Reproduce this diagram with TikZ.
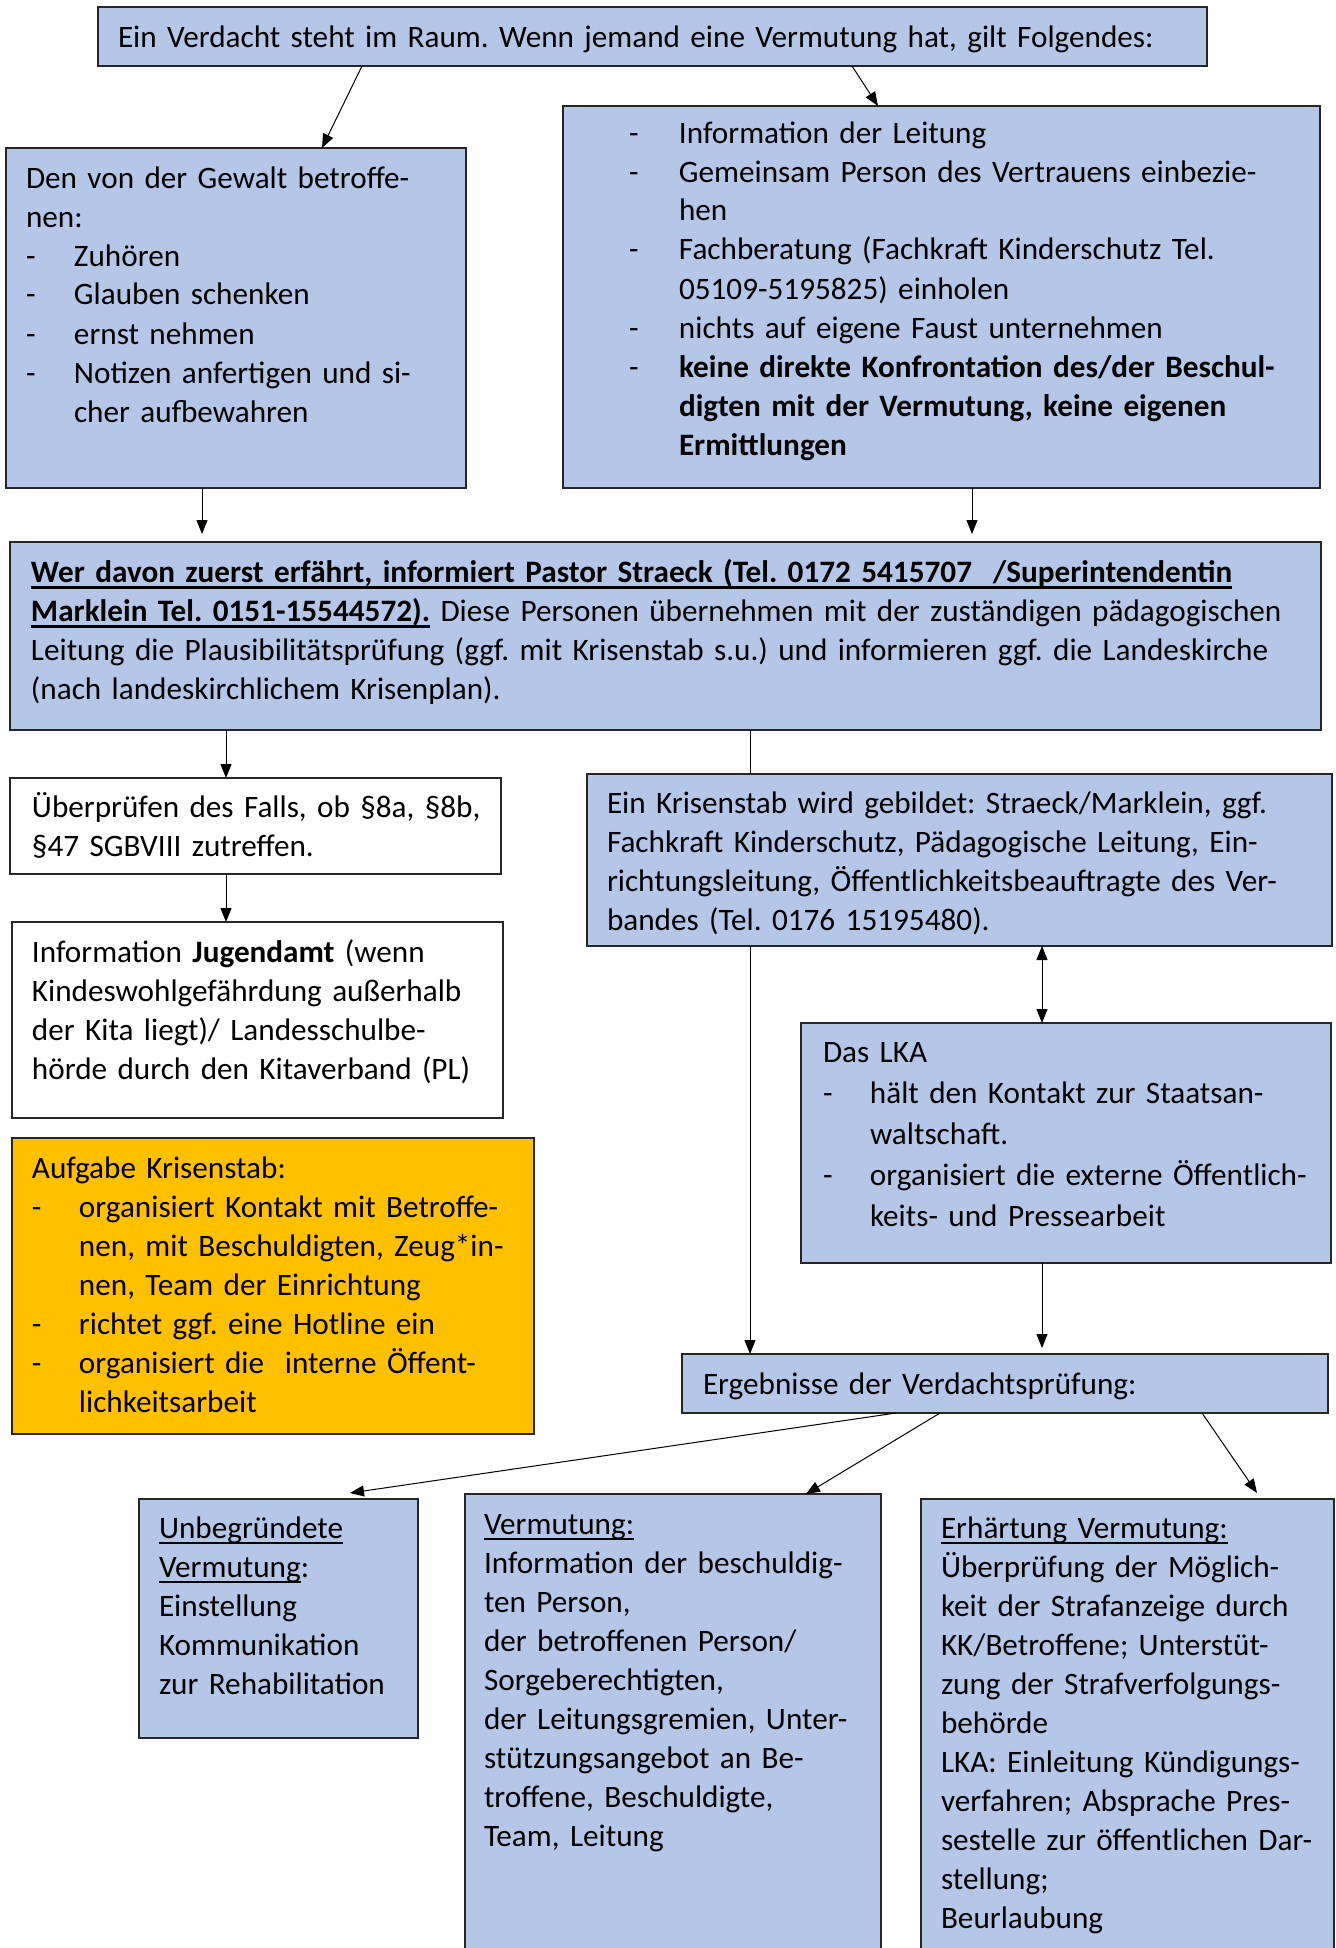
\documentclass[tikz,border=0pt]{standalone}
\usepackage{fontspec}
\setmainfont{Carlito}
\usetikzlibrary{arrows.meta}
\definecolor{boxblue}{HTML}{B4C7E7}
\definecolor{boxorange}{HTML}{FFC000}
\newsavebox\ulbox
\newcommand\ulthick[1]{\leavevmode\sbox\ulbox{#1}\rlap{\rule[-3.3pt]{\wd\ulbox}{1.1pt}}\usebox\ulbox}
\newcommand\ulthin[1]{\leavevmode\sbox\ulbox{#1}\rlap{\rule[-2.8pt]{\wd\ulbox}{0.75pt}}\usebox\ulbox}
\newcommand\bul[1][24pt]{\leavevmode\makebox[#1][l]{-}}
\newcommand\ind[1][24pt]{\leavevmode\hspace*{#1}}
\tikzset{
  box/.style={draw=black!85, line width=1pt, anchor=north west, inner sep=0pt, outer sep=0pt},
  bluebox/.style={box, fill=boxblue},
  whitebox/.style={box, fill=white},
  orangebox/.style={box, fill=boxorange},
  txt/.style={anchor=base west, inner sep=0pt, outer sep=0pt, align=left, text width=720pt,
    font=\fontsize{15.6}{19.5}\selectfont\frenchspacing},
  txtwide/.style={txt, font=\fontsize{15.6}{20.6}\selectfont\frenchspacing},
  arr/.style={line width=0.5pt, -{Triangle[length=7pt,width=5.5pt]}},
  darr/.style={line width=0.5pt, {Triangle[length=7pt,width=5.5pt]}-{Triangle[length=7pt,width=5.5pt]}},
  plain/.style={line width=0.5pt}
}
\begin{document}
\begin{tikzpicture}[x=0.5pt, y=-0.5pt]
\useasboundingbox (0,0) rectangle (1336,1948);
\clip (0,0) rectangle (1336,1948);
\fill[white] (0,0) rectangle (1336,1948);

% boxes
\node[bluebox, minimum width=554.5pt, minimum height=29.5pt] (top) at (98,7) {};
\node[bluebox, minimum width=230pt, minimum height=170pt] (betr) at (6,148) {};
\node[bluebox, minimum width=378.5pt, minimum height=191pt] (leit) at (563,106) {};
\node[bluebox, minimum width=655.5pt, minimum height=94pt] (info) at (10,542) {};
\node[whitebox, minimum width=245.5pt, minimum height=48pt] (check) at (10,778) {};
\node[bluebox, minimum width=372.5pt, minimum height=86pt] (krisen) at (587,774) {};
\node[whitebox, minimum width=245.5pt, minimum height=98pt] (jugend) at (12,922) {};
\node[bluebox, minimum width=265pt, minimum height=120pt] (lka) at (801,1023) {};
\node[orangebox, minimum width=261pt, minimum height=148pt] (aufgabe) at (12,1138) {};
\node[bluebox, minimum width=323pt, minimum height=29.5pt] (ergeb) at (682,1354) {};
\node[bluebox, minimum width=139.5pt, minimum height=119.5pt] (unbeg) at (139,1499) {};
\node[bluebox, minimum width=208pt, minimum height=240pt] (verm) at (465,1494) {};
\node[bluebox, minimum width=206.5pt, minimum height=237.5pt] (erh) at (921,1499) {};

% texts
\node[txt] (top-t) at (118,48) {Ein Verdacht steht im Raum. Wenn jemand eine Vermutung hat, gilt Folgendes:};
\node[txt] (betr-t) at (26,188) {Den von der Gewalt betroffe-\\
nen:\\
\bul Zuhören\\
\bul Glauben schenken\\
\bul ernst nehmen\\
\bul Notizen anfertigen und si-\\
\ind cher aufbewahren};
\node[txt] (leit-t) at (629,143) {\bul[25pt]Information der Leitung\\
\bul[25pt]Gemeinsam Person des Vertrauens einbezie-\\
\ind[25pt]hen\\
\bul[25pt]Fachberatung (Fachkraft Kinderschutz Tel.\\
\ind[25pt]05109-5195825) einholen\\
\bul[25pt]nichts auf eigene Faust unternehmen\\
\bul[25pt]\textbf{keine direkte Konfrontation des/der Beschul-}\\
\ind[25pt]\textbf{digten mit der Vermutung, keine eigenen}\\
\ind[25pt]\textbf{Ermittlungen}};
\node[txt] (info-t) at (31,582) {\textbf{\ulthick{Wer davon zuerst erfährt, informiert Pastor Straeck (Tel. 0172 5415707\ \ /Superintendentin}}\\
\textbf{\ulthick{Marklein Tel. 0151-15544572).}} Diese Personen übernehmen mit der zuständigen pädagogischen\\
Leitung die Plausibilitätsprüfung (ggf. mit Krisenstab s.u.) und informieren ggf. die Landeskirche\\
(nach landeskirchlichem Krisenplan).};
\node[txt] (check-t) at (32,817) {Überprüfen des Falls, ob §8a, §8b,\\
§47 SGBVIII zutreffen.};
\node[txt] (krisen-t) at (607,813) {Ein Krisenstab wird gebildet: Straeck/Marklein, ggf.\\
Fachkraft Kinderschutz, Pädagogische Leitung, Ein-\\
richtungsleitung, Öffentlichkeitsbeauftragte des Ver-\\
bandes (Tel. 0176 15195480).};
\node[txt] (jugend-t) at (32,962) {Information \textbf{Jugendamt} (wenn\\
Kindeswohlgefährdung außerhalb\\
der Kita liegt)/ Landesschulbe-\\
hörde durch den Kitaverband (PL)};
\node[txtwide] (lka-t) at (823,1062) {Das LKA\\
\bul[23.5pt]hält den Kontakt zur Staatsan-\\
\ind[23.5pt]waltschaft.\\
\bul[23.5pt]organisiert die externe Öffentlich-\\
\ind[23.5pt]keits- und Pressearbeit};
\node[txt] (aufgabe-t) at (32,1178) {Aufgabe Krisenstab:\\
\bul[23.5pt]organisiert Kontakt mit Betroffe-\\
\ind[23.5pt]nen, mit Beschuldigten, Zeug*in-\\
\ind[23.5pt]nen, Team der Einrichtung\\
\bul[23.5pt]richtet ggf. eine Hotline ein\\
\bul[23.5pt]organisiert die\ \ interne Öffent-\\
\ind[23.5pt]lichkeitsarbeit};
\node[txt] (ergeb-t) at (703,1394) {Ergebnisse der Verdachtsprüfung:};
\node[txt] (unbeg-t) at (159,1538) {\ulthin{Unbegründete}\\
\ulthin{Vermutung}:\\
Einstellung\\
Kommunikation\\
zur Rehabilitation};
\node[txt] (verm-t) at (484,1534) {\ulthin{Vermutung:}\\
Information der beschuldig-\\
ten Person,\\
der betroffenen Person/\\
Sorgeberechtigten,\\
der Leitungsgremien, Unter-\\
stützungsangebot an Be-\\
troffene, Beschuldigte,\\
Team, Leitung};
\node[txt] (erh-t) at (941,1538) {\ulthin{Erhärtung Vermutung:}\\
Überprüfung der Möglich-\\
keit der Strafanzeige durch\\
KK/Betroffene; Unterstüt-\\
zung der Strafverfolgungs-\\
behörde\\
LKA: Einleitung Kündigungs-\\
verfahren; Absprache Pres-\\
sestelle zur öffentlichen Dar-\\
stellung;\\
Beurlaubung};

% connectors
\draw[arr] ([xshift=132pt]top.south west) -- ([xshift=158pt]betr.north west);
\draw[arr] ([xshift=377pt]top.south west) -- ([xshift=157.5pt]leit.north west);
\draw[arr] ([xshift=98pt]betr.south west) -- ([xshift=96pt,yshift=4pt]info.north west);
\draw[arr] ([xshift=204.5pt]leit.south west) -- ([xshift=481pt,yshift=4pt]info.north west);
\draw[arr] ([xshift=108pt]info.south west) -- ([xshift=108pt]check.north west);
\draw[plain] ([xshift=370pt]info.south west) -- ([xshift=81.5pt]krisen.north west);
\draw[arr] ([xshift=108pt]check.south west) -- ([xshift=107pt]jugend.north west);
\draw[darr] ([xshift=227.5pt]krisen.south west) -- ([xshift=120.5pt]lka.north west);
\draw[arr] ([xshift=81.5pt]krisen.south west) -- ([xshift=34pt]ergeb.north west);
\draw[arr] ([xshift=120.5pt]lka.south west) -- ([xshift=180pt,yshift=3pt]ergeb.north west);
\draw[arr] ([xshift=107pt]ergeb.south west) -- ([xshift=105.5pt,yshift=3pt]unbeg.north west);
\draw[arr] ([xshift=129pt]ergeb.south west) -- ([xshift=170.5pt]verm.north west);
\draw[arr] ([xshift=260pt]ergeb.south west) -- ([xshift=168pt,yshift=3pt]erh.north west);
\end{tikzpicture}
\end{document}
